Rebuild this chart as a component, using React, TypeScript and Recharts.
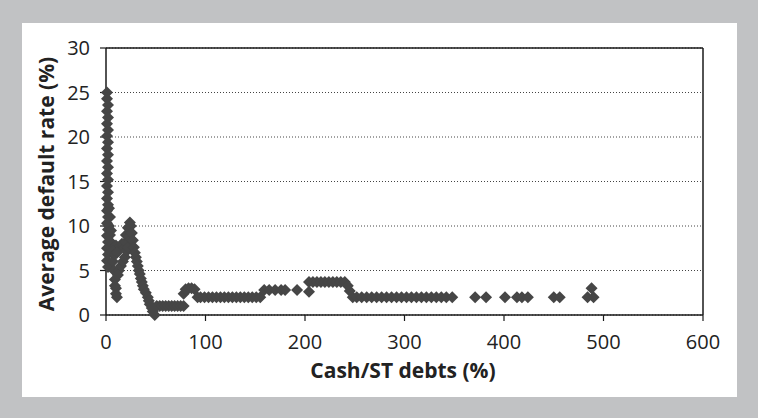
import React from 'react';
import { ScatterChart, Scatter, XAxis, YAxis, CartesianGrid, ReferenceLine } from 'recharts';

// Tick labels
const xTicks = [0, 100, 200, 300, 400, 500, 600];
const yTicks = [0, 5, 10, 15, 20, 25, 30];

// Near-zero cash ratios: vertical column of high default rates
const columnX = [1, 1, 2, 1, 2, 1, 2, 1, 2, 1, 2, 1, 2, 1, 2, 1, 2, 1, 2, 1, 2, 1, 2, 1, 2, 1, 2, 1, 2, 3, 4, 3, 5, 4];
const columnY = [25, 24.3, 23.6, 22.9, 22.2, 21.5, 20.8, 20.1, 19.4, 18.7, 18, 17.3, 16.6, 15.9, 15.2, 14.5, 13.8, 13.1, 12.4, 11.7, 11, 10.3, 9.6, 8.9, 8.2, 7.5, 6.8, 6.1, 5.4, 12, 11, 10, 9.5, 9];

// Left leg and band below the peak
const bandX = [5, 6, 7, 8, 9, 10, 11, 10, 9, 4, 6, 8, 10, 12, 14, 16, 18, 20, 7, 9, 11, 13, 15, 17, 19, 21, 22, 12];
const bandY = [8, 7, 6, 5, 4, 3, 2, 2.4, 3.3, 8.3, 8, 7.6, 7.8, 7.4, 7.7, 8, 7.5, 8.2, 7.2, 6.8, 7, 5, 5.5, 6, 6.5, 7.2, 7.6, 4.5];

// Peak around 25% and descent to zero
const peakX = [20, 22, 24, 23, 25, 25, 26, 27, 28, 29, 30, 31, 32, 33, 34, 35, 36, 37, 38, 40, 42, 43, 44, 46, 47, 49];
const peakY = [9, 9.8, 10.4, 8.8, 8.5, 10, 9.2, 8.4, 7.6, 7, 6.5, 6, 5.5, 5, 4.6, 4.1, 3.7, 3.3, 2.9, 2.5, 2, 1.6, 1.2, 0.8, 0.4, 0];

// Low plateau 50-250
const plateauX = [51, 54, 57, 60, 63, 66, 69, 72, 75, 78, 78, 80, 83, 86, 89, 92, 95, 99, 103, 107, 111, 115, 119, 123, 127, 131, 135, 139, 143, 147, 151, 155, 159, 164, 170, 176, 180, 192, 204, 204, 208, 212, 216, 220, 224, 228, 232, 236, 240, 243, 245, 248];
const plateauY = [1, 1, 1, 1, 1, 1, 1, 1, 1, 1, 2.4, 2.9, 3, 3, 2.9, 2, 2, 2, 2, 2, 2, 2, 2, 2, 2, 2, 2, 2, 2, 2, 2, 2, 2.8, 2.8, 2.8, 2.8, 2.8, 2.8, 2.6, 3.7, 3.7, 3.7, 3.7, 3.7, 3.7, 3.7, 3.7, 3.7, 3.7, 3.3, 2.7, 2];

// Tail beyond 250
const tailX = [252, 257, 262, 267, 272, 277, 282, 287, 292, 297, 302, 307, 312, 317, 322, 327, 332, 337, 342, 348, 371, 382, 401, 413, 418, 424, 450, 456, 484, 490, 488];
const tailY = [2, 2, 2, 2, 2, 2, 2, 2, 2, 2, 2, 2, 2, 2, 2, 2, 2, 2, 2, 2, 2, 2, 2, 2, 2, 2, 2, 2, 2, 2, 3];

const zip = (xs: number[], ys: number[]) => xs.map((x, i) => ({ x, y: ys[i] }));
const data = [
  ...zip(columnX, columnY),
  ...zip(bandX, bandY),
  ...zip(peakX, peakY),
  ...zip(plateauX, plateauY),
  ...zip(tailX, tailY),
];

const Diamond = (props: any) => {
  const { cx, cy } = props;
  const h = 6;
  return (
    <polygon
      points={`${cx},${cy - h} ${cx + h},${cy} ${cx},${cy + h} ${cx - h},${cy}`}
      fill="#464646"
    />
  );
};

const font = "'Open Sans', 'Noto Sans', sans-serif";

export default function App() {
  return (
    <div style={{ position: 'absolute', left: 0, top: 0, width: 758, height: 418, background: '#c1c2c4' }}>
      <div style={{ position: 'absolute', left: 22, top: 23, width: 715, height: 374, background: '#ffffff' }} />
      <div style={{ position: 'absolute', left: 0, top: 0 }}>
        <ScatterChart width={758} height={418} margin={{ top: 48, right: 55, bottom: 43, left: 0 }}>
          <CartesianGrid vertical={false} strokeDasharray="1 2" stroke="#444" />
          <XAxis
            type="number"
            dataKey="x"
            domain={[0, 600]}
            ticks={xTicks}
            interval={0}
            height={60}
            tickSize={6}
            tickMargin={14}
            axisLine={{ stroke: '#1a1a1a', strokeWidth: 1.5 }}
            tickLine={{ stroke: '#1a1a1a', strokeWidth: 1.2 }}
            tick={{ fill: '#222', fontSize: 20, fontFamily: font }}
          />
          <YAxis
            type="number"
            dataKey="y"
            domain={[0, 30]}
            ticks={yTicks}
            interval={0}
            width={106}
            tickSize={6}
            tickMargin={10}
            axisLine={{ stroke: '#1a1a1a', strokeWidth: 1.5 }}
            tickLine={{ stroke: '#1a1a1a', strokeWidth: 1.2 }}
            tick={{ fill: '#222', fontSize: 20, fontFamily: font }}
          />
          <ReferenceLine y={30} stroke="#1a1a1a" strokeWidth={1.5} />
          <ReferenceLine x={600} stroke="#1a1a1a" strokeWidth={1.5} />
          <Scatter data={data} shape={Diamond} isAnimationActive={false} />
        </ScatterChart>
      </div>
      <svg width={758} height={418} style={{ position: 'absolute', left: 0, top: 0, pointerEvents: 'none' }}>
        <text x={403} y={378} textAnchor="middle" fontFamily={font} fontWeight="bold" fontSize={21} fill="#222">
          Cash/ST debts (%)
        </text>
        <text
          x={0}
          y={0}
          transform="translate(54,184) rotate(-90)"
          textAnchor="middle"
          fontFamily={font}
          fontWeight="bold"
          fontSize={21}
          fill="#222"
        >
          Average default rate (%)
        </text>
      </svg>
    </div>
  );
}
